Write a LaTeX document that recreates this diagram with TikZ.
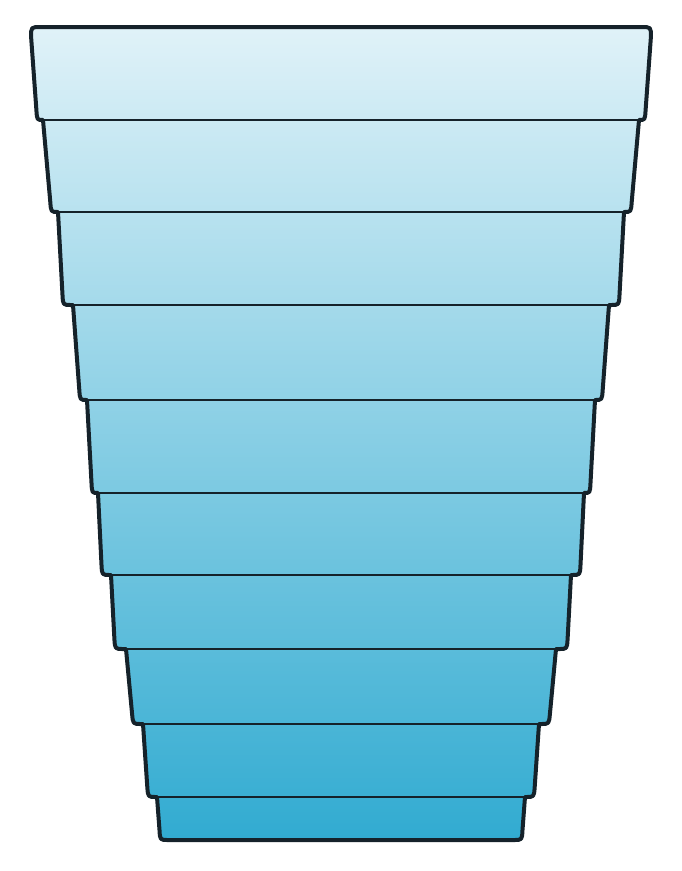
\documentclass[tikz,border=0pt]{standalone}
\usepackage{tikz}
\definecolor{topc}{RGB}{224,242,248}
\definecolor{botc}{RGB}{49,171,209}
\definecolor{edge}{RGB}{21,34,42}
\tikzset{
  outline/.style={draw=edge, line width=4pt, line join=round},
  sep/.style={draw=edge, line width=2pt},
  layerfill/.style={top color=topc, bottom color=botc},
}
\begin{document}
\begin{tikzpicture}[x=1pt,y=-1pt]
\useasboundingbox (0,0) rectangle (682,871);
% filled silhouette
\path[layerfill]
  (341,27) -- (41,27) .. controls (31,27) .. (31.1,37)
  -- (36.4,110) .. controls (37,120) .. (43,120)
  -- (50.3,202) .. controls (51,212) .. (58,212)
  -- (62.5,295) .. controls (63,305) .. (71,305) -- (73,305)
  -- (79.3,390) .. controls (80,400) .. (87,400)
  -- (91.5,483) .. controls (92,493) .. (98,493)
  -- (101.5,565) .. controls (102,575) .. (110,575) -- (111,575)
  -- (114.4,639) .. controls (115,649) .. (123,649) -- (126,649)
  -- (132.1,714) .. controls (133,724) .. (141,724) -- (143,724)
  -- (147.3,787) .. controls (148,797) .. (156,797) -- (157,797)
  -- (159.5,830) .. controls (160,840) .. (168,840)
  -- (514,840) .. controls (522,840) .. (522.5,830)
  -- (525,797) -- (526,797) .. controls (534,797) .. (534.7,787)
  -- (539,724) -- (541,724) .. controls (549,724) .. (549.9,714)
  -- (556,649) -- (559,649) .. controls (567,649) .. (567.6,639)
  -- (571,575) -- (572,575) .. controls (580,575) .. (580.5,565)
  -- (584,493) .. controls (590,493) .. (590.5,483)
  -- (595,400) .. controls (602,400) .. (602.7,390)
  -- (609,305) -- (611,305) .. controls (619,305) .. (619.5,295)
  -- (624,212) .. controls (631,212) .. (631.7,202)
  -- (639,120) .. controls (645,120) .. (645.6,110)
  -- (650.9,37) .. controls (651,27) .. (641,27) -- cycle;
% separators
\coordinate (s1l) at (43,120);  \coordinate (s1r) at (639,120);
\coordinate (s2l) at (58,212);  \coordinate (s2r) at (624,212);
\coordinate (s3l) at (73,305);  \coordinate (s3r) at (609,305);
\coordinate (s4l) at (87,400);  \coordinate (s4r) at (595,400);
\coordinate (s5l) at (98,493);  \coordinate (s5r) at (584,493);
\coordinate (s6l) at (111,575); \coordinate (s6r) at (571,575);
\coordinate (s7l) at (126,649); \coordinate (s7r) at (556,649);
\coordinate (s8l) at (143,724); \coordinate (s8r) at (539,724);
\coordinate (s9l) at (157,797); \coordinate (s9r) at (525,797);
\foreach \i in {1,...,9} { \draw[sep] (s\i l) -- (s\i r); }
% outline
\path[outline]
  (341,27) -- (41,27) .. controls (31,27) .. (31.1,37)
  -- (36.4,110) .. controls (37,120) .. (43,120)
  -- (50.3,202) .. controls (51,212) .. (58,212)
  -- (62.5,295) .. controls (63,305) .. (71,305) -- (73,305)
  -- (79.3,390) .. controls (80,400) .. (87,400)
  -- (91.5,483) .. controls (92,493) .. (98,493)
  -- (101.5,565) .. controls (102,575) .. (110,575) -- (111,575)
  -- (114.4,639) .. controls (115,649) .. (123,649) -- (126,649)
  -- (132.1,714) .. controls (133,724) .. (141,724) -- (143,724)
  -- (147.3,787) .. controls (148,797) .. (156,797) -- (157,797)
  -- (159.5,830) .. controls (160,840) .. (168,840)
  -- (514,840) .. controls (522,840) .. (522.5,830)
  -- (525,797) -- (526,797) .. controls (534,797) .. (534.7,787)
  -- (539,724) -- (541,724) .. controls (549,724) .. (549.9,714)
  -- (556,649) -- (559,649) .. controls (567,649) .. (567.6,639)
  -- (571,575) -- (572,575) .. controls (580,575) .. (580.5,565)
  -- (584,493) .. controls (590,493) .. (590.5,483)
  -- (595,400) .. controls (602,400) .. (602.7,390)
  -- (609,305) -- (611,305) .. controls (619,305) .. (619.5,295)
  -- (624,212) .. controls (631,212) .. (631.7,202)
  -- (639,120) .. controls (645,120) .. (645.6,110)
  -- (650.9,37) .. controls (651,27) .. (641,27) -- cycle;
\end{tikzpicture}
\end{document}
